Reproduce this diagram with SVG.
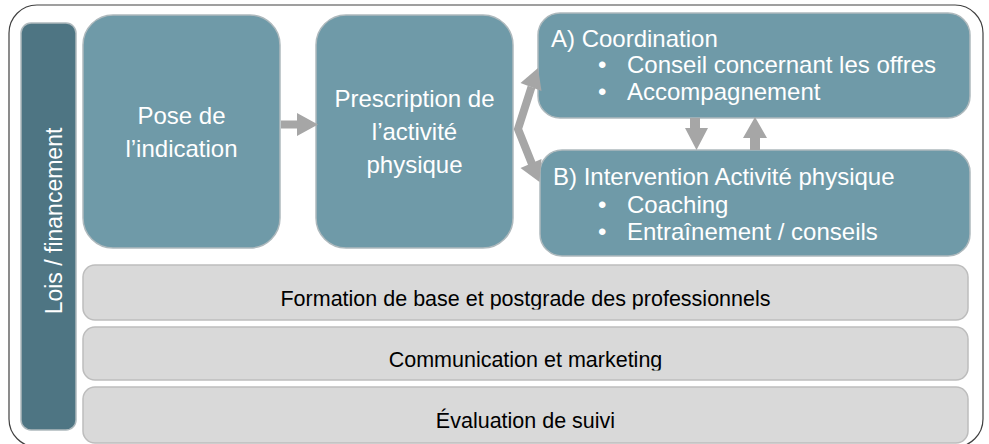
<svg xmlns="http://www.w3.org/2000/svg" width="989" height="444" viewBox="0 0 989 444">
<defs>
<style>
.frame{fill:#FFFFFF;stroke:#404040;stroke-width:1.2}
.teal{fill:#6F9AA8;stroke:#AEB9BD;stroke-width:1.5}
.dark{fill:#4E7583;stroke:#AEB9BD;stroke-width:1.5}
.bar{fill:#D9D9D9;stroke:#BDBDBD;stroke-width:1.5}
.wt{font-family:"Liberation Sans",Arial,sans-serif;fill:#FFFFFF}
.bt{font-family:"Liberation Sans",Arial,sans-serif;fill:#000000;font-size:21.5px;text-anchor:middle}
.arr{fill:#A6A6A6;stroke:none}
.arrl{fill:none;stroke:#A6A6A6;stroke-width:8;stroke-linejoin:miter;stroke-miterlimit:10}
</style>
<clipPath id="c1" clipPathUnits="userSpaceOnUse"><rect x="83" y="265" width="885" height="44.5"/></clipPath>
<clipPath id="c2" clipPathUnits="userSpaceOnUse"><rect x="83" y="327" width="885" height="43.5"/></clipPath>
</defs>
<rect class="frame" x="9" y="5" width="974" height="442" rx="28" ry="28"/>

<g id="lois">
<rect class="dark" x="21" y="23" width="55" height="407" rx="10" ry="10"/>
<text class="wt" font-size="23" text-anchor="middle" transform="translate(62,221) rotate(-90)">Lois / financement</text>
</g>

<g id="pose">
<rect class="teal" x="83" y="15" width="197" height="233" rx="30" ry="30"/>
<text class="wt" font-size="24" text-anchor="middle" x="181.5" y="124">Pose de</text>
<text class="wt" font-size="24" text-anchor="middle" x="181.5" y="157">l’indication</text>
</g>

<g id="prescription">
<rect class="teal" x="316" y="15" width="197" height="233" rx="30" ry="30"/>
<text class="wt" font-size="24" text-anchor="middle" x="414.5" y="107">Prescription de</text>
<text class="wt" font-size="24" text-anchor="middle" x="414.5" y="140">l’activité</text>
<text class="wt" font-size="24" text-anchor="middle" x="414.5" y="173">physique</text>
</g>

<g id="coordination">
<rect class="teal" x="538" y="13" width="432" height="105" rx="22" ry="22"/>
<text class="wt" font-size="24" x="551" y="47">A) Coordination</text>
<text class="wt" font-size="24" x="598" y="73">•</text>
<text class="wt" font-size="24" x="627" y="73">Conseil concernant les offres</text>
<text class="wt" font-size="24" x="598" y="100">•</text>
<text class="wt" font-size="24" x="627" y="100">Accompagnement</text>
</g>

<g id="intervention">
<rect class="teal" x="540" y="150" width="430" height="106" rx="22" ry="22"/>
<text class="wt" font-size="24" x="553" y="185">B) Intervention Activité physique</text>
<text class="wt" font-size="24" x="598" y="213">•</text>
<text class="wt" font-size="24" x="627" y="213">Coaching</text>
<text class="wt" font-size="24" x="598" y="240">•</text>
<text class="wt" font-size="24" x="627" y="240">Entraînement / conseils</text>
</g>

<g id="formation">
<rect class="bar" x="83" y="265" width="885" height="55" rx="12" ry="12"/>
<text class="bt" x="525.5" y="306" clip-path="url(#c1)">Formation de base et postgrade des professionnels</text>
</g>

<g id="communication">
<rect class="bar" x="83" y="327" width="885" height="53" rx="12" ry="12"/>
<text class="bt" x="525.5" y="367" clip-path="url(#c2)">Communication et marketing</text>
</g>

<g id="evaluation">
<rect class="bar" x="83" y="387" width="885" height="56" rx="12" ry="12"/>
<text class="bt" x="525.5" y="428">Évaluation de suivi</text>
</g>

<g id="connectors">
<polygon class="arr" points="281,120.5 297,120.5 297,113 318,124.5 297,136 297,128.5 281,128.5"/>
<path class="arrl" d="M531.5,87 L518,129 L532,164"/>
<polygon class="arr" points="538,68 541.5,91 520.5,83"/>
<polygon class="arr" points="539.5,182 541.5,159 520.5,168"/>
<polygon class="arr" points="690,118 700,118 700,128 708,128 696.5,150 685,128 690,128"/>
<polygon class="arr" points="750,150 760,150 760,138 767,138 755,117 743,138 750,138"/>
</g>
</svg>
